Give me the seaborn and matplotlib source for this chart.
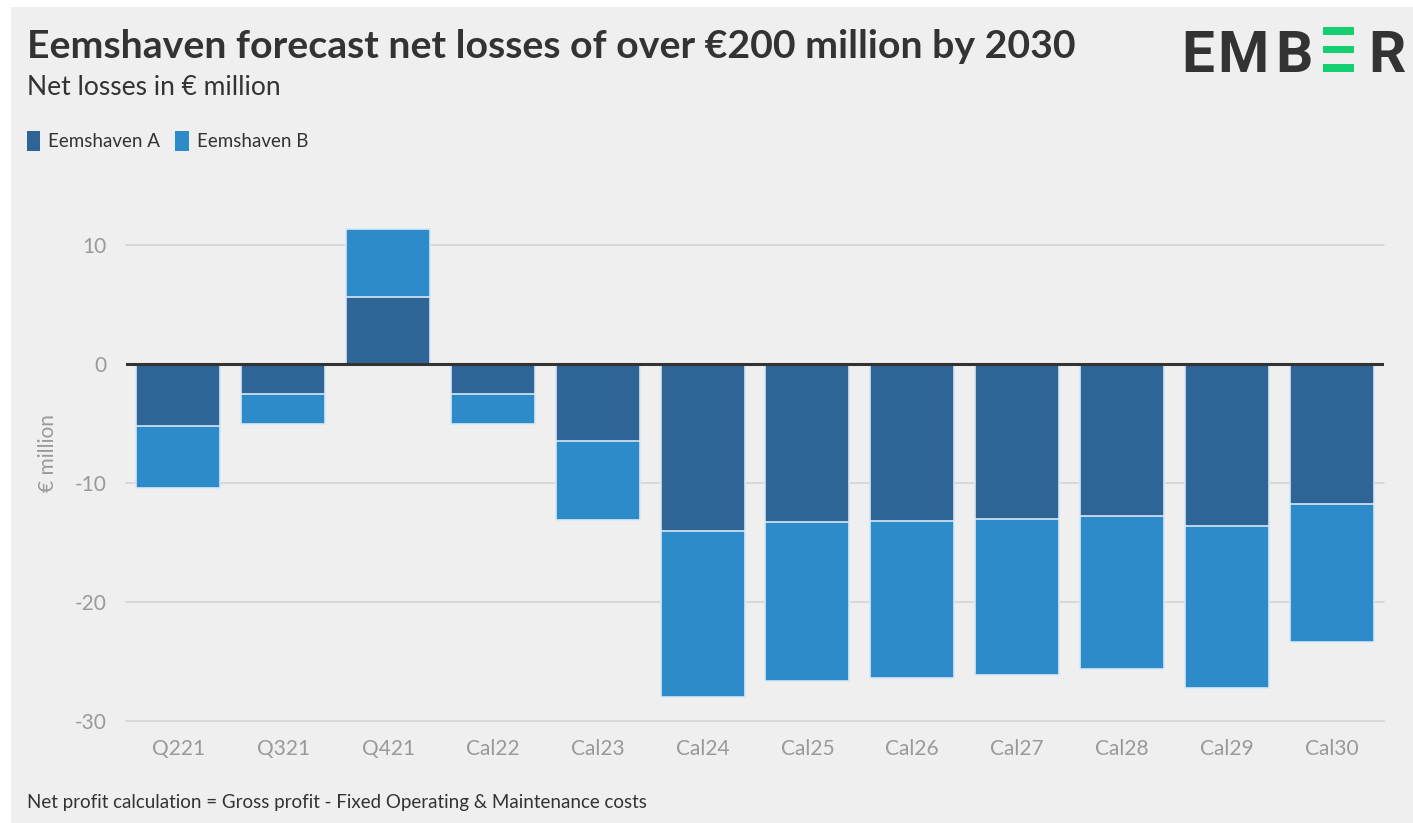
import pandas as pd
import matplotlib
matplotlib.use("Agg")
import matplotlib.pyplot as plt
from matplotlib.patches import Patch, Rectangle
import seaborn as sns

# data (€ million)
periods = ["Q221", "Q321", "Q421", "Cal22", "Cal23", "Cal24",
           "Cal25", "Cal26", "Cal27", "Cal28", "Cal29", "Cal30"]
eemshaven_a = [-5.2, -2.5, 5.65, -2.55, -6.5, -14.0, -13.3, -13.2, -13.0, -12.8, -13.6, -11.75]
eemshaven_b = [-5.25, -2.55, 5.7, -2.45, -6.6, -13.95, -13.3, -13.2, -13.1, -12.8, -13.6, -11.65]
y_ticks = [-30, -20, -10, 0, 10]

COL_A = "#2f6496"
COL_B = "#2e8bc9"
BG = "#efefef"
GREY = "#999999"
DARK = "#333333"

df = pd.DataFrame({"period": periods, "A": eemshaven_a, "B": eemshaven_b})
df["total"] = df["A"] + df["B"]

sns.set_theme(style="white")
plt.rcParams["font.family"] = ["Lato", "DejaVu Sans"]

W, H = 1413, 823
fig = plt.figure(figsize=(W / 100, H / 100), dpi=100, facecolor="white")
# grey card with a thin white margin at top/left
fig.patches.append(Rectangle((11 / W, 0), 1, 1 - 7 / H, transform=fig.transFigure,
                             facecolor=BG, edgecolor="none", zorder=-10))

ax = fig.add_axes([126 / W, 1 - 721 / H, 1258 / W, (721 - 185.5) / H])
ax.set_facecolor(BG)

# stacked look: total in B colour, then A drawn over it from zero
sns.barplot(data=df, x="period", y="total", color=COL_B, saturation=1, width=0.8,
            edgecolor="#d6e8f5", linewidth=1.2, ax=ax, zorder=3)
sns.barplot(data=df, x="period", y="A", color=COL_A, saturation=1, width=0.8,
            edgecolor="#d6e8f5", linewidth=1.2, ax=ax, zorder=4)

ax.set_xlim(-0.5, len(periods) - 0.5)
ax.set_ylim(-30, 15)
ax.set_yticks(y_ticks)
ax.set_yticklabels([str(t) for t in y_ticks])
for t in y_ticks:
    if t == 0:
        ax.axhline(0, color=DARK, lw=2.2, zorder=5)
    else:
        ax.axhline(t, color="#d8d8d8", lw=1.4, zorder=1, clip_on=False)

for s in ax.spines.values():
    s.set_visible(False)
ax.tick_params(axis="both", length=0, labelsize=15, labelcolor=GREY)
ax.tick_params(axis="x", pad=13)
ax.tick_params(axis="y", pad=14)
ax.set_xlabel("")
ax.set_ylabel("€ million", fontsize=15, color=GREY, labelpad=12)

# titles
fig.text(27 / W, 1 - 58 / H, "Eemshaven forecast net losses of over €200 million by 2030",
         fontsize=28.3, fontweight="bold", color=DARK, ha="left", va="baseline")
fig.text(27 / W, 1 - 95 / H, "Net losses in € million",
         fontsize=19, color=DARK, ha="left", va="baseline")
fig.text(27 / W, 1 - 808 / H,
         "Net profit calculation = Gross profit - Fixed Operating & Maintenance costs",
         fontsize=13.5, color=DARK, ha="left", va="baseline")

# legend
handles = [Patch(facecolor=COL_A, edgecolor="none", label="Eemshaven A"),
           Patch(facecolor=COL_B, edgecolor="none", label="Eemshaven B")]
fig.legend(handles=handles, loc="upper left", bbox_to_anchor=(10 / W, 1 - 114 / H),
           ncol=2, frameon=False, fontsize=13.5, handlelength=0.7, handleheight=1.3,
           handletextpad=0.45, columnspacing=0.8, labelcolor=DARK)

# EMBER logo
logo = dict(fontsize=42, fontweight="bold", color=DARK, va="baseline", ha="center",
            family=["Roboto", "DejaVu Sans"])
fig.text(1198 / W, 1 - 72 / H, "E", **logo)
fig.text(1243 / W, 1 - 72 / H, "M", **logo)
fig.text(1294 / W, 1 - 72 / H, "B", **logo)
fig.text(1387 / W, 1 - 72 / H, "R", **logo)
for y0, y1 in [(27, 35), (46, 53), (64, 72)]:
    fig.patches.append(Rectangle((1323 / W, 1 - y1 / H), 31 / W, (y1 - y0) / H,
                                 transform=fig.transFigure, facecolor="#14cf70",
                                 edgecolor="none"))

fig.savefig("out.png", dpi=100, facecolor=fig.get_facecolor())
